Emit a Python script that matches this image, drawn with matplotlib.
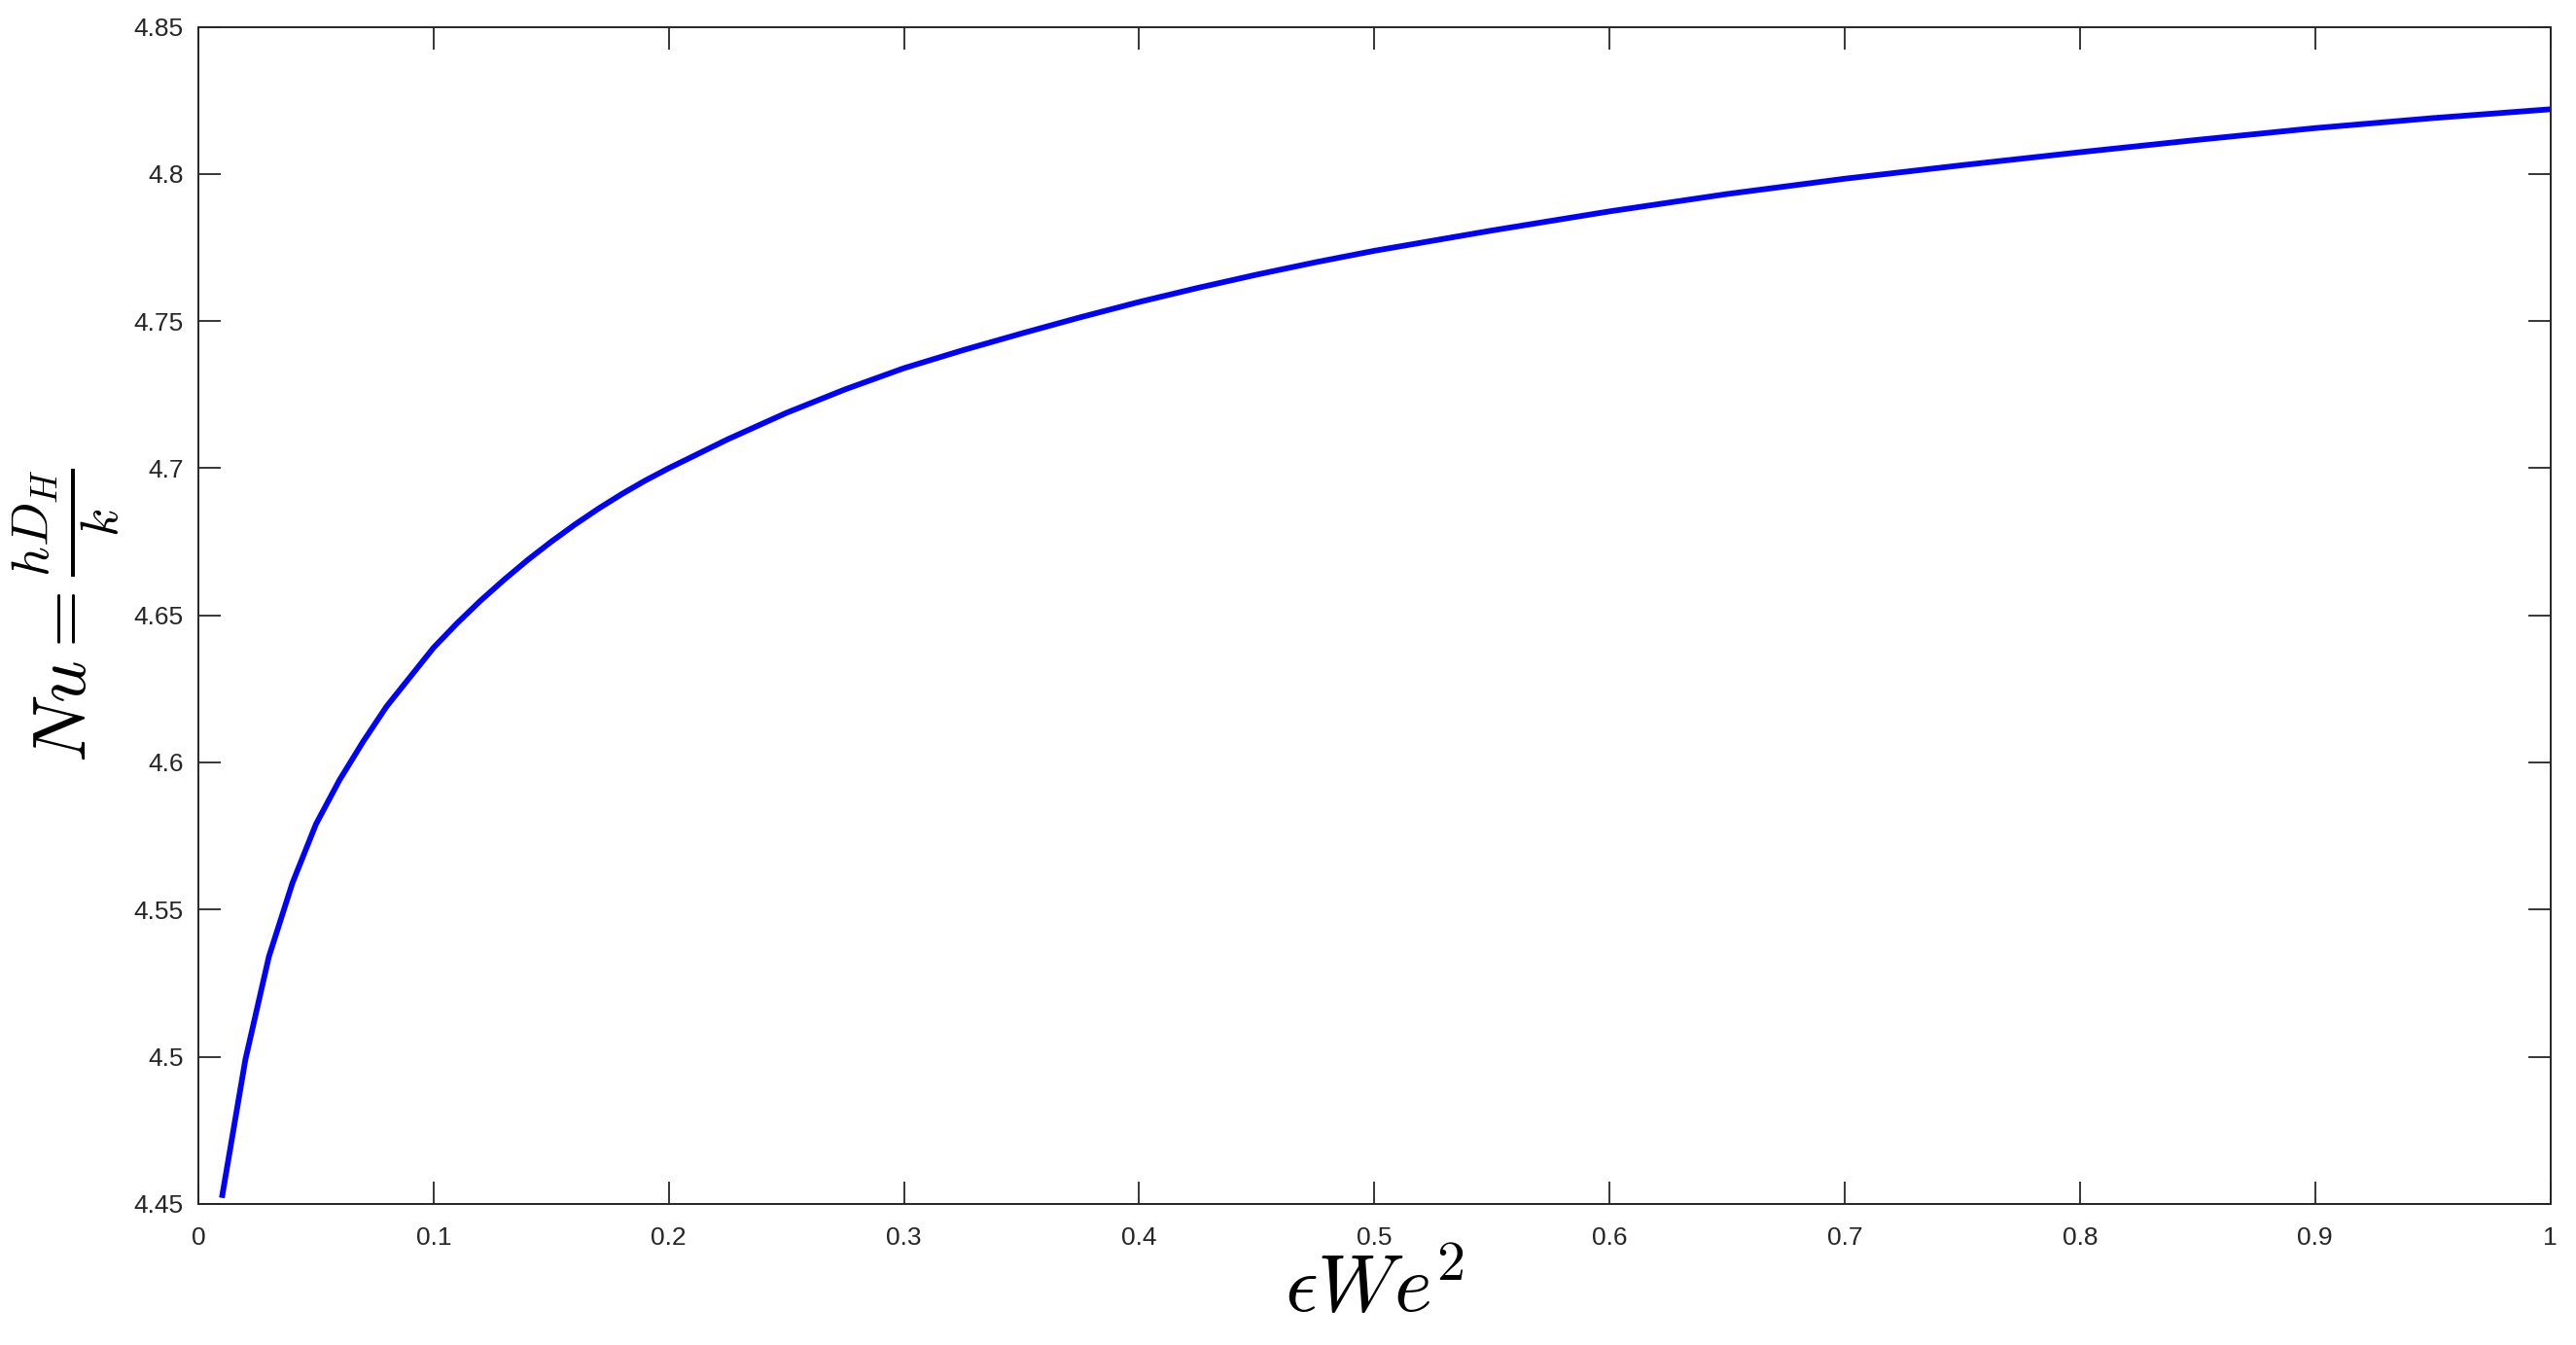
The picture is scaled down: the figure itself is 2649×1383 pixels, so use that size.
import matplotlib
matplotlib.use('Agg')
import matplotlib.pyplot as plt
from matplotlib.ticker import FuncFormatter

# --- Data ---
eps_we2 = [0.01, 0.02, 0.03, 0.04, 0.05, 0.06, 0.07, 0.08, 0.09, 0.10,
           0.11, 0.12, 0.13, 0.14, 0.15, 0.16, 0.17, 0.18, 0.19, 0.20,
           0.225, 0.25, 0.275, 0.30, 0.325, 0.35, 0.375, 0.40, 0.425, 0.45,
           0.475, 0.50, 0.55, 0.60, 0.65, 0.70, 0.75, 0.80, 0.85, 0.90,
           0.95, 1.00]
nusselt = [4.452, 4.499, 4.534, 4.559, 4.579, 4.594, 4.607, 4.619, 4.629, 4.639,
           4.6473, 4.6550, 4.6621, 4.6688, 4.6750, 4.6808, 4.6862, 4.6912, 4.6958, 4.7000,
           4.7098, 4.7188, 4.7268, 4.7340, 4.7401, 4.7458, 4.7513, 4.7565, 4.7613, 4.7658,
           4.7700, 4.7739, 4.7808, 4.7873, 4.7932, 4.7984, 4.8030, 4.8074, 4.8116, 4.8156,
           4.8190, 4.8220]

x_ticks = [0, 0.1, 0.2, 0.3, 0.4, 0.5, 0.6, 0.7, 0.8, 0.9, 1]
y_ticks = [4.45, 4.5, 4.55, 4.6, 4.65, 4.7, 4.75, 4.8, 4.85]

# --- Style ---
plt.rcParams['font.family'] = ['Liberation Sans', 'DejaVu Sans']
plt.rcParams['mathtext.fontset'] = 'cm'
axis_color = '#262626'

fig = plt.figure(figsize=(26.49, 13.83), dpi=100)
ax = fig.add_axes([0.077, 0.105, 0.913, 0.875])

ax.plot(eps_we2, nusselt, color='#0000ff', linewidth=4.2,
        solid_joinstyle='round', solid_capstyle='butt')

ax.set_xlim(0, 1)
ax.set_ylim(4.45, 4.85)
ax.set_xticks(x_ticks)
ax.set_yticks(y_ticks)
g_fmt = FuncFormatter(lambda v, p: '%g' % round(v, 4))
ax.xaxis.set_major_formatter(g_fmt)
ax.yaxis.set_major_formatter(g_fmt)

ax.tick_params(axis='both', direction='in', length=16.5, width=1.3,
               color=axis_color, labelcolor=axis_color, labelsize=19,
               top=True, right=True)
ax.tick_params(axis='x', pad=17)
ax.tick_params(axis='y', pad=11)
for s in ax.spines.values():
    s.set_color(axis_color)
    s.set_linewidth(1.4)

ax.set_xlabel(r'$\epsilon We^2$', fontsize=60, color='black', labelpad=2)
ax.set_ylabel(r'$Nu = \frac{hD_H}{k}$', fontsize=55, color='black', labelpad=9)

fig.savefig('out.png', dpi=100, facecolor='white')
